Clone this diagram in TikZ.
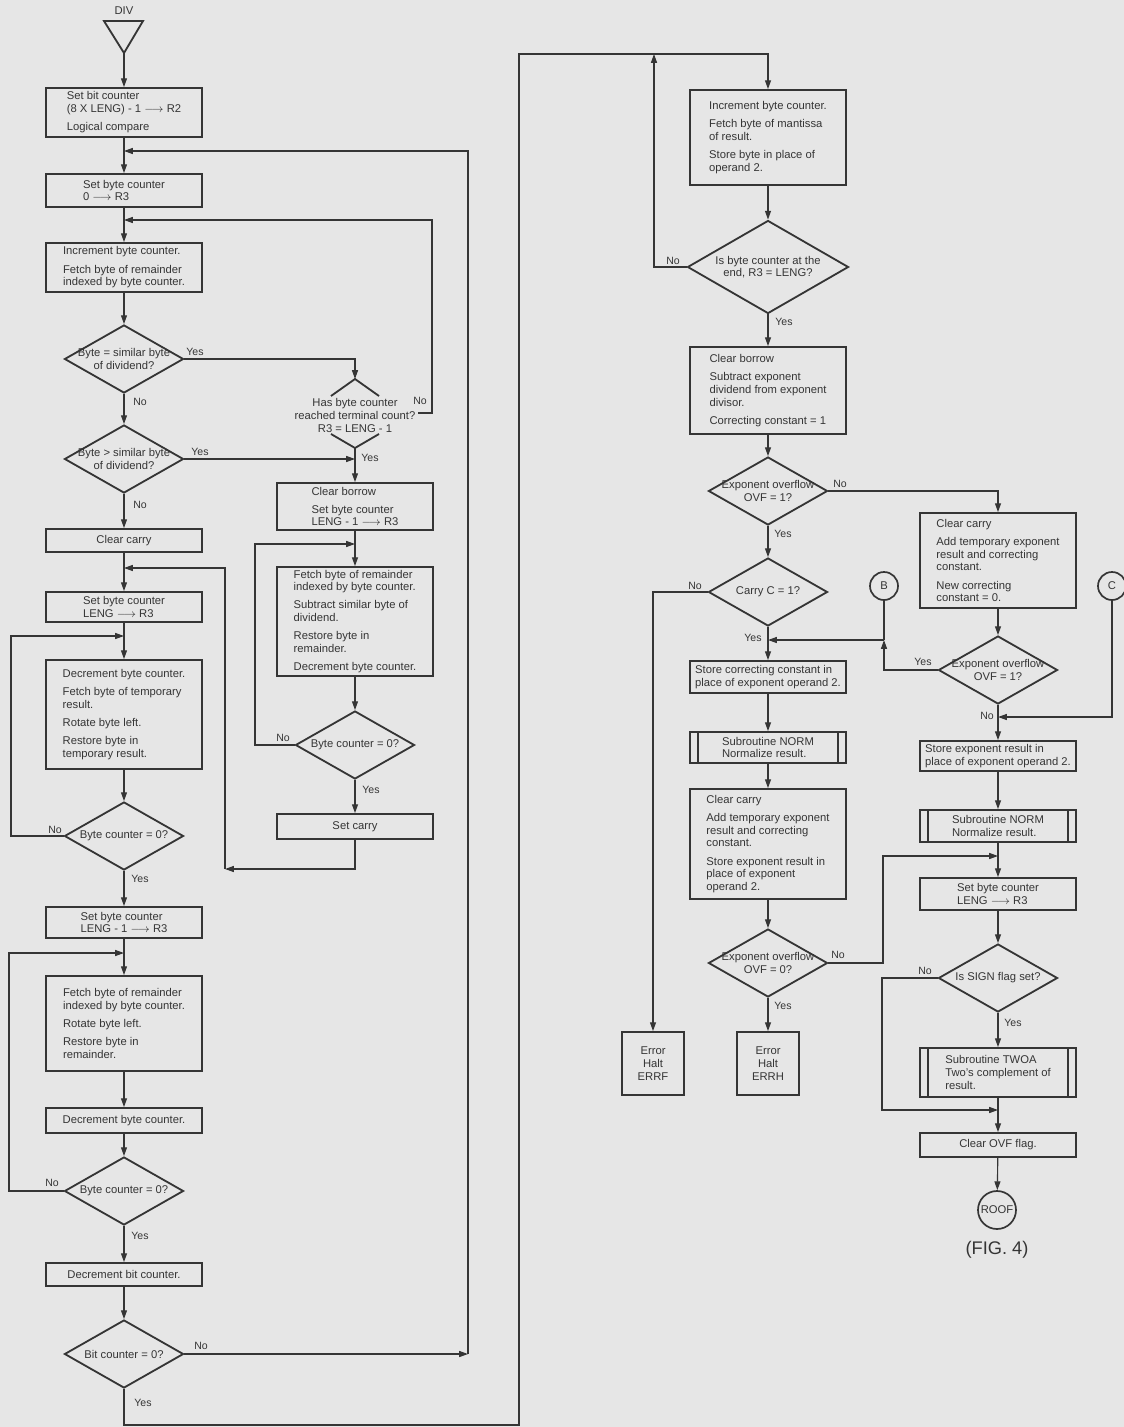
\documentclass[tikz,border=0pt]{standalone}
\usepackage{fontspec}
\setmainfont{Liberation Sans}
\usepackage{amsmath}
\usepackage{tikz}
\usetikzlibrary{arrows.meta,shapes.geometric}

\definecolor{ink}{HTML}{353535}
\definecolor{paper}{HTML}{E6E6E6}

\newcommand{\arrto}{$\longrightarrow$}

\tikzset{
    proc/.style={draw=ink, line width=1.3pt, align=left, inner sep=2pt, minimum width=3.9cm},
    errbox/.style={proc, align=center, minimum width=1.55cm, minimum height=1.575cm},
    sub/.style={proc, path picture={
        \draw[ink, line width=1.3pt] ([xshift=0.2cm]path picture bounding box.north west) -- ([xshift=0.2cm]path picture bounding box.south west);
        \draw[ink, line width=1.3pt] ([xshift=-0.2cm]path picture bounding box.north east) -- ([xshift=-0.2cm]path picture bounding box.south east);}},
    dec/.style={draw=ink, line width=1.3pt, shape=diamond, inner sep=0pt, minimum width=2.975cm, minimum height=1.7cm},
    dectext/.style={align=center, inner sep=0pt},
    conn/.style={draw=ink, line width=1.2pt, circle, inner sep=0pt, minimum size=0.7cm},
    flow/.style={draw=ink, line width=0.8pt, -{Triangle[length=2.2mm, width=1.5mm]}},
    plain/.style={draw=ink, line width=0.8pt},
    yn/.style={font=\fontsize{7.5}{9}\selectfont, inner sep=1pt},
}

\begin{document}
\begin{tikzpicture}[x=0.025cm, y=-0.025cm, font=\fontsize{8}{9}\selectfont, text=ink]
            \path[use as bounding box, fill=paper] (0,0) rectangle (1124,1427);

            \node (divlbl) at (124,11) {DIV};
            \draw[ink, line width=1.3pt] (104,21) -- (143,21) -- (124,53) -- cycle;
            \coordinate (divtip) at (124,53);

            \node[proc, minimum height=1.225cm] (b1) at (124,112.5) {Set bit counter\\(8 X LENG) - 1 \arrto{} R2\\[4pt]Logical compare};
            \node[proc, minimum height=0.825cm] (b2) at (124,190.5) {Set byte counter\\0 \arrto{} R3};
            \node[proc, minimum height=1.225cm] (b3) at (124,267.5) {Increment byte counter.\\[4pt]Fetch byte of remainder\\indexed by byte counter.};
            \node[dec, label={[dectext]center:Byte = similar byte\\of dividend?}] (d1) at (124,359) {};
            \node[dec, label={[dectext]center:Byte > similar byte\\of dividend?}] (d2) at (124,459) {};
            \node[proc, align=center, minimum height=0.575cm] (b4) at (124,540.5) {Clear carry};
            \node[proc, minimum height=0.75cm] (b5) at (124,607) {Set byte counter\\LENG \arrto{} R3};
            \node[proc, minimum height=2.725cm] (b6) at (124,714.5) {Decrement byte counter.\\[4pt]Fetch byte of temporary\\result.\\[4pt]Rotate byte left.\\[4pt]Restore byte in\\temporary result.};
            \node[dec, label={[dectext]center:Byte counter = 0?}] (d3) at (124,836) {};
            \node[proc, minimum height=0.775cm] (b7) at (124,922.5) {Set byte counter\\LENG - 1 \arrto{} R3};
            \node[proc, minimum height=2.375cm] (b8) at (124,1023.5) {Fetch byte of remainder\\indexed by byte counter.\\[4pt]Rotate byte left.\\[4pt]Restore byte in\\remainder.};
            \node[proc, align=center, minimum height=0.625cm] (b9) at (124,1120.5) {Decrement byte counter.};
            \node[dec, label={[dectext]center:Byte counter = 0?}] (d4) at (124,1191) {};
            \node[proc, align=center, minimum height=0.575cm] (b10) at (124,1274.5) {Decrement bit counter.};
            \node[dec, label={[dectext]center:Bit counter = 0?}] (d5) at (124,1354) {};

            \node[align=center, inner sep=0pt] (dA) at (355,415.5) {Has byte counter\\reached terminal count?\\R3 = LENG - 1};
            \draw[ink, line width=1.3pt] (331,396) -- (355,379) -- (379,396);
            \draw[ink, line width=1.3pt] (331,434) -- (355,448) -- (379,434);
            \coordinate (dAtop) at (355,379);
            \coordinate (dAbot) at (355,448);
            \coordinate (dAr) at (418,413);
            \node[proc, minimum height=1.175cm] (b11) at (355,506.5) {Clear borrow\\[4pt]Set byte counter\\LENG - 1 \arrto{} R3};
            \node[proc, minimum height=2.675cm] (b12) at (355,621.5) {Fetch byte of remainder\\indexed by byte counter.\\[4pt]Subtract similar byte of\\dividend.\\[4pt]Restore byte in\\remainder.\\[4pt]Decrement byte counter.};
            \node[dec, label={[dectext]center:Byte counter = 0?}] (d6) at (355,745) {};
            \node[proc, align=center, minimum height=0.625cm] (b13) at (355,826.5) {Set carry};

            \node[proc, minimum height=2.375cm] (b14) at (768,137.5) {Increment byte counter.\\[4pt]Fetch byte of mantissa\\of result.\\[4pt]Store byte in place of\\operand 2.};
            \node[dec, minimum width=4.025cm, minimum height=2.325cm, label={[dectext]center:{Is byte counter at the\\end, R3 = LENG?}}] (dB) at (768,267) {};
            \node[proc, minimum height=2.175cm] (b15) at (768,390.5) {Clear borrow\\[4pt]Subtract exponent\\dividend from exponent\\divisor.\\[4pt]Correcting constant = 1};
            \node[dec, label={[dectext]center:Exponent overflow\\OVF = 1?}] (dC) at (768,491) {};
            \node[dec, label={[dectext]center:Carry C = 1?}] (dD) at (768,592) {};
            \node[proc, minimum height=0.8cm] (b17) at (768,677) {Store correcting constant in\\place of exponent operand 2.};
            \node[sub, minimum height=0.775cm] (b18) at (768,747.5) {Subroutine NORM\\Normalize result.};
            \node[proc, minimum height=2.75cm] (b19) at (768,844) {Clear carry\\[4pt]Add temporary exponent\\result and correcting\\constant.\\[4pt]Store exponent result in\\place of exponent\\operand 2.};
            \node[dec, label={[dectext]center:Exponent overflow\\OVF = 0?}] (dE) at (768,963) {};
            \node[errbox] (errf) at (653,1063.5) {Error\\Halt\\ERRF};
            \node[errbox] (errh) at (768,1063.5) {Error\\Halt\\ERRH};

            \node[conn] (B) at (884,586) {B};
            \node[conn] (C) at (1112,586) {C};
            \node[proc, minimum height=2.375cm] (b16) at (998,560.5) {Clear carry\\[4pt]Add temporary exponent\\result and correcting\\constant.\\[4pt]New correcting\\constant = 0.};
            \node[dec, label={[dectext]center:Exponent overflow\\OVF = 1?}] (dF) at (998,670) {};
            \node[proc, minimum height=0.75cm] (b20) at (998,756) {Store exponent result in\\place of exponent operand 2.};
            \node[sub, minimum height=0.8cm] (b21) at (998,826) {Subroutine NORM\\Normalize result.};
            \node[proc, minimum height=0.8cm] (b22) at (998,894) {Set byte counter\\LENG \arrto{} R3};
            \node[dec, label={[dectext]center:Is SIGN flag set?}] (dG) at (998,978) {};
            \node[sub, minimum height=1.225cm] (b23) at (998,1072.5) {Subroutine TWOA\\Two's complement of\\result.};
            \node[proc, align=center, minimum height=0.6cm] (b24) at (998,1145) {Clear OVF flag.};
            \node[conn, minimum size=0.95cm] (roof) at (997,1210) {ROOF};
            \node[font=\fontsize{13}{15}\selectfont] (fig) at (997,1250) {(FIG. 4)};

            \coordinate (j1) at (124,151);
            \coordinate (j2) at (124,220);
            \coordinate (j3) at (124,568);
            \coordinate (j4) at (124,636);
            \coordinate (j5) at (124,953);
            \coordinate (j6) at (355,544);
            \coordinate (j7) at (768,640);
            \coordinate (jB) at (884,640);
            \coordinate (j8) at (998,717);
            \coordinate (j9) at (998,856);
            \coordinate (j10) at (998,1110);
            \coordinate (c3) at (11,836);
            \coordinate (c4) at (9,1191);
            \coordinate (c5) at (468,1354);
            \coordinate (c6a) at (124,1425);
            \coordinate (c6b) at (519,1425);
            \coordinate (c6c) at (519,54);
            \coordinate (cA) at (432,413);
            \coordinate (cD) at (255,745);
            \coordinate (cS) at (225,869);
            \coordinate (cB) at (654,54);
            \coordinate (cE) at (883,963);
            \coordinate (cG) at (882,978);

            \draw[flow] (divtip) -- (b1.north);
            \draw[flow] (b1) -- (b2);
            \draw[flow] (b2) -- (b3);
            \draw[flow] (b3) -- (d1.north);
            \draw[flow] (d1.south) -- (d2.north);
            \draw[flow] (d2.south) -- (b4);
            \draw[flow] (b4) -- (b5);
            \draw[flow] (b5) -- (b6);
            \draw[flow] (b6) -- (d3.north);
            \draw[flow] (d3.south) -- (b7);
            \draw[flow] (b7) -- (b8);
            \draw[flow] (b8) -- (b9);
            \draw[flow] (b9) -- (d4.north);
            \draw[flow] (d4.south) -- (b10);
            \draw[flow] (b10) -- (d5.north);
            \draw[flow] (d3.west) -- (c3) |- (j4);
            \draw[flow] (d4.west) -- (c4) |- (j5);
            \draw[flow] (d5.east) -- (c5);
            \draw[flow] (c5) |- (j1);
            \draw[flow] (d5.south) -- (c6a) -- (c6b) -- (c6c) -| (b14.north);

            \draw[flow] (d1.east) -| (dAtop);
            \draw[flow] (d2.east) -- (d2.east -| dAbot);
            \draw[flow] (dAbot) -- (b11.north);
            \draw[flow] (dAr) -- (cA) |- (j2);
            \draw[flow] (b11) -- (b12);
            \draw[flow] (b12) -- (d6.north);
            \draw[flow] (d6.west) -- (cD) |- (j6);
            \draw[flow] (d6.south) -- (b13);
            \draw[flow] (b13.south) |- (cS);
            \draw[flow] (cS) |- (j3);

            \draw[flow] (b14) -- (dB.north);
            \draw[flow] (dB.west) -| (cB);
            \draw[flow] (dB.south) -- (b15);
            \draw[flow] (b15) -- (dC.north);
            \draw[flow] (dC.east) -| (b16.north);
            \draw[flow] (dC.south) -- (dD.north);
            \draw[flow] (dD.west) -| (errf.north);
            \draw[flow] (dD.south) -- (b17);
            \draw[flow] (b17) -- (b18);
            \draw[flow] (b18) -- (b19);
            \draw[flow] (b19) -- (dE.north);
            \draw[flow] (dE.south) -- (errh);
            \draw[flow] (dE.east) -- (cE) |- (j9);

            \draw[flow] (b16) -- (dF.north);
            \draw[flow] (dF.west) -| (jB);
            \draw[plain] (B) -- (jB);
            \draw[flow] (jB) -- (j7);
            \draw[flow] (dF.south) -- (b20);
            \draw[flow] (C) |- (j8);
            \draw[flow] (b20) -- (b21);
            \draw[flow] (b21) -- (b22);
            \draw[flow] (b22) -- (dG.north);
            \draw[flow] (dG.west) -- (cG) |- (j10);
            \draw[flow] (dG.south) -- (b23);
            \draw[flow] (b23) -- (b24);
            \draw[flow] (b24) -- (roof);

            \node[yn] (n1) at (140,402) {No};
            \node[yn] (y1) at (195,352) {Yes};
            \node[yn] (n2) at (140,505) {No};
            \node[yn] (y2) at (200,452) {Yes};
            \node[yn] (nA) at (420,401) {No};
            \node[yn] (yA) at (370,458) {Yes};
            \node[yn] (n6) at (283,738) {No};
            \node[yn] (y6) at (371,790) {Yes};
            \node[yn] (n3) at (55,830) {No};
            \node[yn] (y3) at (140,879) {Yes};
            \node[yn] (n4) at (52,1183) {No};
            \node[yn] (y4) at (140,1236) {Yes};
            \node[yn] (n5) at (201,1346) {No};
            \node[yn] (y5) at (143,1403) {Yes};
            \node[yn] (nB) at (673,261) {No};
            \node[yn] (yB) at (784,322) {Yes};
            \node[yn] (nC) at (840,484) {No};
            \node[yn] (yC) at (783,534) {Yes};
            \node[yn] (nD) at (695,586) {No};
            \node[yn] (yD) at (753,638) {Yes};
            \node[yn] (yF) at (923,662) {Yes};
            \node[yn] (nF) at (987,716) {No};
            \node[yn] (nE) at (838,955) {No};
            \node[yn] (yE) at (783,1006) {Yes};
            \node[yn] (nG) at (925,971) {No};
            \node[yn] (yG) at (1013,1023) {Yes};
\end{tikzpicture}
\end{document}
